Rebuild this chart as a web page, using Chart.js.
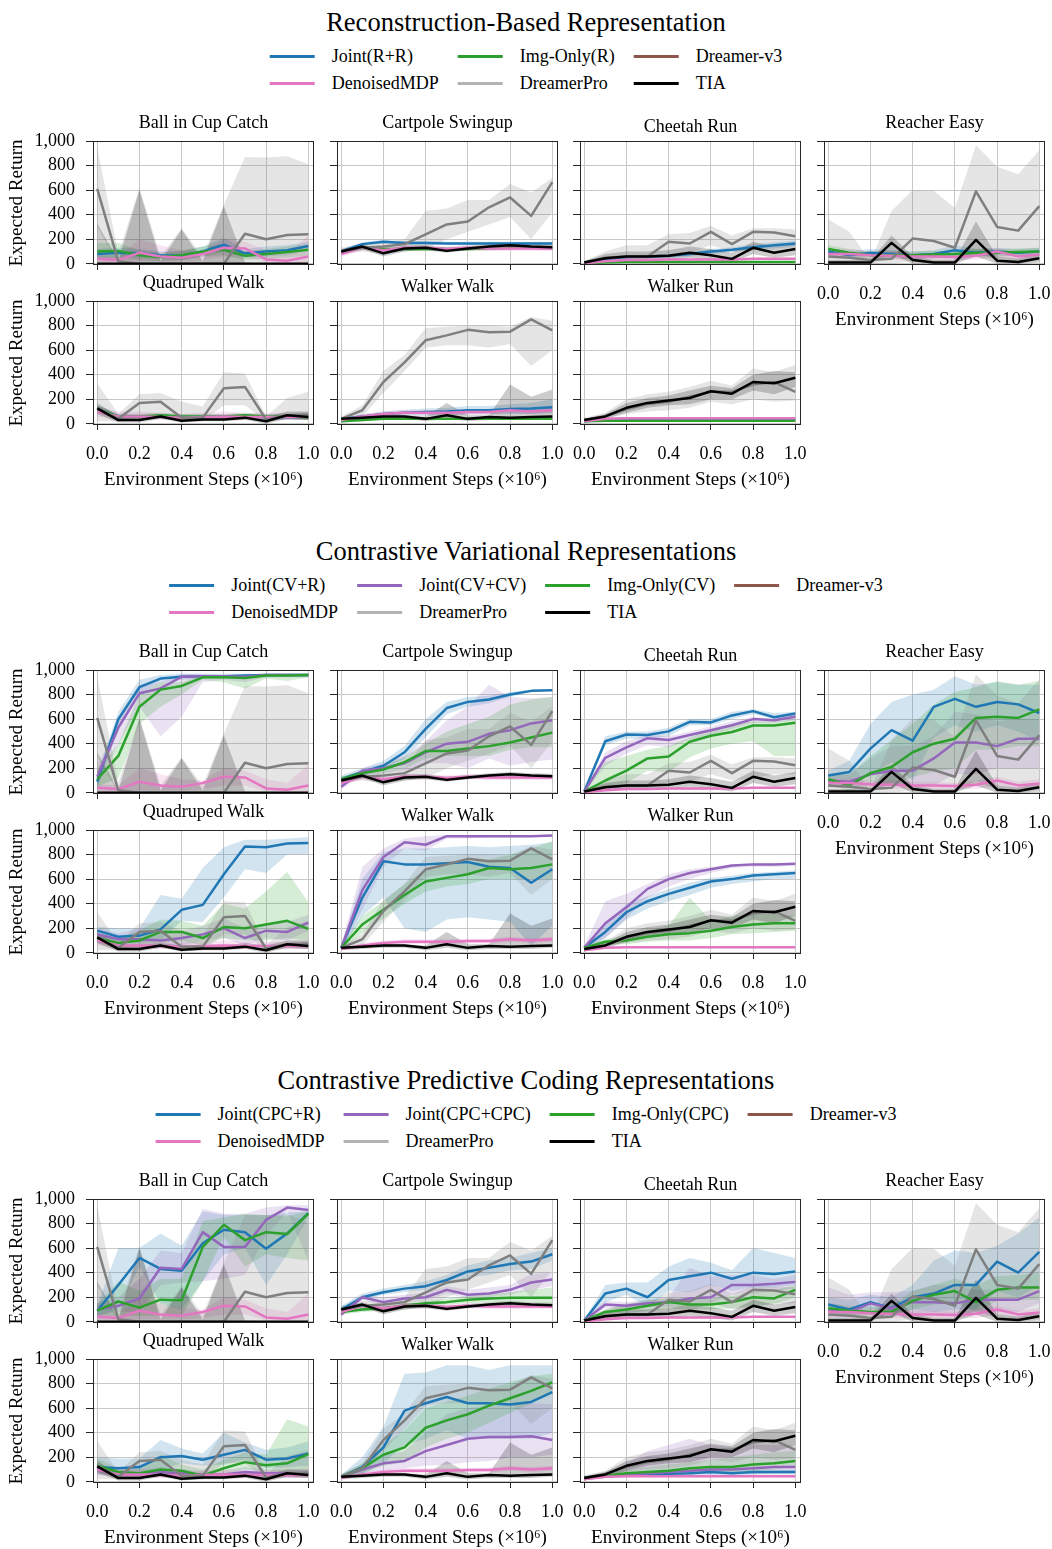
<!DOCTYPE html>
<html lang="en">
<head>
<meta charset="UTF-8">
<title>Representation Comparison</title>
<style>
  body { margin: 0; background: #fff; font-family: "Liberation Serif", "DejaVu Serif", serif; color: #000; }
  #page { position: relative; width: 1052px; height: 1549px; overflow: hidden; }
  canvas { position: absolute; }
  .sec-title { position: absolute; left: 0; width: 1052px; text-align: center; font-size: 26.5px; line-height: 30px; }
  .legend { position: absolute; left: 50%; transform: translateX(-50%); display: grid; column-gap: 19px; row-gap: 5px; font-size: 18px; }
  .legend .item { display: flex; align-items: center; white-space: nowrap; height: 22px; }
  .legend .swatch { width: 45px; height: 3px; margin-right: 17px; }
  .sub-title { position: absolute; width: 221px; text-align: center; font-size: 18px; line-height: 22px; white-space: nowrap; }
</style>
</head>
<body>
<div id="page"></div>
<script src="https://cdn.jsdelivr.net/npm/chart.js"></script>
<script>
// x = environment steps (x1e6), 11 evaluation points
const steps = [0, 0.1, 0.2, 0.3, 0.4, 0.5, 0.6, 0.7, 0.8, 0.9, 1.0];
const xTicks = [0, 0.2, 0.4, 0.6, 0.8, 1.0];
const yTicks = [0, 200, 400, 600, 800, 1000];
const tasks = ['Ball in Cup Catch', 'Cartpole Swingup', 'Cheetah Run', 'Reacher Easy',
               'Quadruped Walk', 'Walker Walk', 'Walker Run'];

// each array below: one row per task, in the order of `tasks`

// DenoisedMDP (baseline)
const dmdpMean = [
  [40, 30, 90, 60, 50, 80, 130, 125, 35, 25, 60],
  [80, 130, 110, 130, 130, 120, 130, 125, 125, 125, 125],
  [5, 20, 30, 30, 35, 35, 35, 35, 40, 40, 40],
  [80, 80, 70, 65, 60, 60, 55, 65, 100, 60, 75],
  [100, 60, 60, 55, 50, 55, 60, 55, 55, 55, 55],
  [30, 60, 80, 90, 90, 90, 95, 95, 110, 100, 110],
  [20, 40, 45, 45, 45, 45, 45, 45, 45, 45, 45]];
const dmdpLo = [
  [10, 0, 20, 20, 20, 30, 60, 60, 10, 0, 10],
  [60, 110, 90, 110, 110, 100, 110, 105, 105, 105, 105],
  [0, 10, 20, 20, 25, 25, 25, 25, 30, 30, 30],
  [40, 40, 40, 30, 30, 30, 30, 30, 60, 30, 40],
  [60, 30, 30, 30, 30, 30, 30, 30, 30, 30, 30],
  [20, 40, 60, 70, 70, 70, 75, 75, 90, 80, 90],
  [10, 30, 35, 35, 35, 35, 35, 35, 35, 35, 35]];
const dmdpHi = [
  [70, 60, 200, 150, 110, 100, 200, 180, 110, 80, 230],
  [100, 150, 130, 150, 150, 140, 150, 145, 145, 145, 145],
  [10, 30, 40, 40, 45, 45, 45, 45, 50, 50, 50],
  [120, 120, 100, 100, 90, 90, 80, 100, 130, 90, 110],
  [140, 100, 100, 90, 80, 90, 100, 90, 90, 90, 90],
  [40, 80, 100, 110, 110, 110, 115, 115, 130, 120, 130],
  [30, 50, 55, 55, 55, 55, 55, 55, 55, 55, 55]];

// DreamerPro (baseline)
const proMean = [
  [610, 20, 0, 0, 0, 0, 0, 245, 200, 235, 240],
  [100, 130, 140, 160, 240, 320, 345, 460, 540, 390, 665],
  [10, 50, 60, 60, 180, 165, 260, 160, 260, 255, 225],
  [60, 50, 30, 40, 205, 185, 130, 590, 300, 270, 470],
  [130, 40, 170, 180, 50, 50, 290, 300, 35, 70, 75],
  [40, 110, 340, 500, 680, 720, 765, 745, 750, 850, 760],
  [30, 60, 120, 160, 180, 220, 260, 260, 320, 340, 260]];
const proLo = [
  [300, 0, 0, 0, 0, 0, 0, 0, 0, 0, 0],
  [80, 100, 80, 100, 120, 200, 260, 320, 380, 200, 420],
  [0, 20, 30, 40, 80, 90, 150, 100, 120, 150, 150],
  [0, 0, 0, 0, 20, 0, 0, 100, 20, 0, 30],
  [20, 20, 60, 60, 20, 20, 150, 150, 20, 30, 30],
  [20, 60, 250, 430, 620, 640, 640, 620, 650, 470, 600],
  [10, 40, 80, 100, 110, 130, 180, 160, 200, 180, 190]];
const proHi = [
  [950, 80, 620, 60, 290, 60, 480, 870, 865, 875, 810],
  [130, 170, 170, 200, 430, 450, 520, 520, 650, 580, 700],
  [20, 100, 150, 150, 240, 250, 310, 230, 290, 290, 280],
  [360, 260, 20, 430, 600, 595, 455, 965, 790, 730, 925],
  [330, 80, 240, 250, 180, 140, 420, 410, 60, 210, 260],
  [60, 150, 430, 560, 780, 790, 800, 800, 790, 870, 840],
  [50, 90, 200, 240, 260, 300, 350, 310, 450, 420, 480]];

// TIA (baseline)
const tiaMean = [
  [0, 0, 0, 0, 0, 0, 0, 0, 0, 0, 0],
  [100, 140, 85, 125, 130, 105, 125, 140, 150, 140, 135],
  [10, 45, 60, 60, 65, 90, 70, 40, 130, 90, 120],
  [10, 10, 10, 170, 30, 10, 10, 195, 25, 15, 45],
  [125, 30, 30, 60, 25, 35, 35, 50, 20, 70, 55],
  [40, 50, 60, 60, 40, 70, 40, 55, 50, 55, 60],
  [30, 60, 130, 170, 190, 210, 265, 245, 340, 330, 375]];
const tiaLo = [
  [0, 0, 0, 0, 0, 0, 0, 0, 0, 0, 0],
  [80, 120, 60, 100, 110, 90, 110, 120, 130, 120, 115],
  [0, 20, 30, 30, 30, 50, 30, 10, 80, 50, 70],
  [0, 0, 0, 80, 0, 0, 0, 60, 0, 0, 10],
  [80, 10, 10, 40, 10, 20, 20, 30, 0, 40, 30],
  [20, 30, 40, 40, 20, 40, 20, 30, 30, 30, 40],
  [20, 40, 90, 130, 150, 160, 200, 200, 270, 240, 300]];
const tiaHi = [
  [330, 20, 600, 20, 280, 20, 470, 10, 0, 0, 0],
  [120, 160, 110, 150, 150, 130, 145, 160, 170, 160, 155],
  [20, 80, 100, 100, 110, 140, 120, 90, 180, 140, 170],
  [30, 30, 30, 230, 60, 30, 30, 345, 60, 40, 80],
  [170, 60, 60, 80, 60, 60, 60, 80, 60, 100, 100],
  [50, 60, 70, 70, 60, 170, 70, 70, 320, 220, 280],
  [40, 80, 170, 210, 230, 270, 310, 290, 400, 430, 420]];

// Joint(R+R)
const rrMean = [
  [80, 90, 85, 70, 65, 100, 155, 85, 100, 110, 145],
  [100, 160, 180, 170, 170, 165, 165, 165, 165, 165, 165],
  [10, 40, 55, 60, 65, 80, 100, 115, 135, 150, 165],
  [100, 70, 90, 80, 70, 80, 110, 90, 100, 90, 100],
  [120, 60, 60, 60, 55, 55, 60, 60, 55, 55, 55],
  [40, 60, 80, 90, 95, 100, 110, 110, 120, 125, 135],
  [20, 35, 40, 40, 40, 40, 40, 40, 40, 40, 40]];
const rrLo = [
  [40, 50, 50, 40, 30, 60, 100, 50, 60, 70, 110],
  [85, 145, 165, 155, 155, 150, 150, 150, 150, 150, 150],
  [0, 30, 40, 45, 50, 60, 80, 95, 110, 125, 140],
  [70, 40, 60, 50, 40, 50, 70, 60, 70, 60, 70],
  [90, 40, 40, 40, 35, 35, 40, 40, 35, 35, 35],
  [30, 45, 60, 65, 65, 70, 75, 75, 80, 80, 85],
  [10, 25, 30, 30, 30, 30, 30, 30, 30, 30, 30]];
const rrHi = [
  [120, 130, 120, 100, 100, 140, 210, 120, 140, 150, 180],
  [115, 175, 195, 185, 185, 180, 180, 180, 180, 180, 180],
  [20, 50, 70, 75, 80, 100, 120, 135, 160, 175, 190],
  [130, 100, 120, 110, 100, 110, 150, 120, 130, 120, 130],
  [150, 80, 80, 80, 75, 75, 80, 80, 75, 75, 75],
  [50, 75, 100, 115, 125, 130, 145, 145, 160, 170, 200],
  [30, 45, 50, 50, 50, 50, 50, 50, 50, 50, 50]];

// Img-Only(R)
const irMean = [
  [100, 105, 70, 55, 70, 100, 115, 65, 80, 95, 115],
  [95, 130, 120, 120, 120, 120, 120, 125, 130, 130, 130],
  [5, 10, 15, 15, 15, 15, 15, 15, 15, 15, 15],
  [120, 90, 70, 70, 70, 75, 80, 90, 90, 95, 100],
  [120, 60, 60, 70, 60, 60, 60, 70, 60, 60, 50],
  [20, 30, 40, 40, 40, 40, 40, 40, 40, 40, 40],
  [20, 25, 25, 25, 25, 25, 25, 25, 25, 25, 25]];
const irLo = [
  [40, 40, 30, 20, 30, 60, 70, 30, 40, 50, 70],
  [80, 115, 105, 105, 105, 105, 105, 110, 115, 115, 115],
  [0, 5, 10, 10, 10, 10, 10, 10, 10, 10, 10],
  [90, 60, 40, 40, 40, 45, 50, 60, 60, 65, 70],
  [90, 40, 40, 50, 40, 40, 40, 50, 40, 40, 30],
  [10, 20, 30, 30, 30, 30, 30, 30, 30, 30, 30],
  [10, 15, 15, 15, 15, 15, 15, 15, 15, 15, 15]];
const irHi = [
  [170, 170, 110, 90, 110, 140, 160, 100, 120, 140, 160],
  [110, 145, 135, 135, 135, 135, 135, 140, 145, 145, 145],
  [10, 15, 20, 20, 20, 20, 20, 20, 20, 20, 20],
  [150, 120, 100, 100, 100, 105, 110, 120, 120, 125, 130],
  [150, 80, 80, 90, 80, 80, 80, 90, 80, 80, 70],
  [30, 40, 50, 50, 50, 50, 50, 50, 50, 50, 50],
  [30, 35, 35, 35, 35, 35, 35, 35, 35, 35, 35]];

// Joint(CV+R)
const cvrMean = [
  [90, 600, 860, 930, 945, 950, 950, 955, 960, 960, 960],
  [110, 170, 220, 330, 520, 690, 740, 760, 800, 830, 835],
  [10, 420, 475, 470, 500, 578, 573, 630, 665, 615, 645],
  [140, 170, 360, 510, 425, 700, 765, 700, 740, 720, 650],
  [180, 130, 140, 190, 350, 390, 640, 865, 860, 890, 895],
  [40, 450, 745, 720, 720, 730, 740, 700, 690, 570, 680],
  [40, 170, 330, 420, 480, 530, 580, 600, 630, 640, 650]];
const cvrLo = [
  [40, 520, 800, 900, 920, 930, 930, 940, 950, 950, 950],
  [90, 140, 190, 280, 450, 640, 700, 730, 780, 820, 830],
  [0, 390, 440, 440, 460, 550, 550, 600, 640, 600, 620],
  [80, 60, 150, 250, 100, 450, 550, 500, 550, 500, 420],
  [140, 80, 80, 100, 260, 250, 450, 680, 650, 800, 800],
  [20, 300, 450, 200, 170, 270, 290, 270, 250, 60, 220],
  [20, 120, 270, 360, 420, 470, 530, 560, 580, 600, 600]];
const cvrHi = [
  [150, 660, 920, 960, 970, 970, 970, 970, 970, 970, 970],
  [140, 200, 260, 380, 600, 740, 780, 790, 820, 840, 840],
  [20, 460, 500, 500, 530, 600, 600, 660, 680, 650, 660],
  [180, 260, 560, 740, 800, 840, 950, 880, 900, 880, 880],
  [210, 200, 200, 470, 440, 690, 860, 920, 920, 930, 940],
  [60, 600, 820, 850, 850, 860, 870, 860, 870, 880, 900],
  [60, 230, 400, 460, 520, 570, 610, 630, 650, 660, 670]];

// Joint(CV+CV)
const cvcvMean = [
  [130, 530, 810, 850, 945, 950, 950, 945, 960, 960, 960],
  [50, 180, 200, 240, 330, 400, 415, 480, 510, 565, 590],
  [10, 285, 370, 445, 430, 470, 510, 550, 600, 590, 620],
  [100, 90, 150, 180, 180, 280, 410, 410, 380, 440, 440],
  [150, 110, 110, 100, 120, 150, 200, 120, 180, 170, 245],
  [40, 510, 780, 900, 880, 950, 950, 950, 950, 950, 955],
  [40, 240, 370, 520, 600, 650, 680, 710, 720, 720, 725]];
const cvcvLo = [
  [60, 400, 700, 460, 620, 900, 920, 900, 940, 940, 940],
  [30, 140, 160, 180, 240, 240, 200, 280, 220, 250, 270],
  [0, 220, 320, 390, 370, 430, 470, 520, 570, 570, 590],
  [50, 40, 60, 60, 50, 60, 150, 150, 200, 200, 200],
  [100, 60, 50, 40, 60, 100, 120, 60, 120, 100, 180],
  [20, 350, 700, 850, 830, 930, 930, 940, 940, 940, 945],
  [20, 120, 280, 450, 540, 600, 650, 690, 700, 700, 710]];
const cvcvHi = [
  [200, 600, 880, 900, 970, 970, 960, 960, 970, 970, 970],
  [80, 200, 240, 300, 420, 590, 700, 880, 780, 770, 780],
  [20, 330, 420, 470, 460, 500, 540, 580, 620, 600, 640],
  [150, 150, 280, 380, 380, 460, 660, 640, 580, 600, 600],
  [200, 160, 200, 180, 180, 220, 280, 200, 240, 250, 310],
  [60, 700, 850, 930, 950, 960, 960, 960, 960, 960, 960],
  [60, 420, 480, 560, 640, 680, 700, 720, 730, 730, 730]];

// Img-Only(CV)
const icvMean = [
  [110, 300, 700, 840, 870, 940, 940, 935, 955, 955, 960],
  [110, 160, 190, 250, 340, 340, 360, 380, 410, 450, 490],
  [10, 100, 180, 280, 295, 415, 465, 495, 548, 548, 570],
  [110, 60, 160, 210, 330, 400, 440, 610, 620, 610, 680],
  [120, 80, 100, 170, 170, 120, 210, 200, 230, 260, 195],
  [40, 230, 350, 470, 580, 610, 640, 690, 680, 690, 720],
  [40, 90, 100, 130, 150, 160, 180, 210, 230, 240, 240]];
const icvLo = [
  [50, 120, 560, 700, 800, 920, 900, 850, 930, 910, 940],
  [90, 140, 160, 200, 280, 300, 300, 300, 350, 370, 370],
  [0, 50, 80, 180, 170, 290, 360, 400, 420, 300, 300],
  [60, 20, 50, 60, 130, 170, 200, 350, 350, 380, 380],
  [80, 40, 40, 80, 100, 60, 120, 100, 100, 120, 100],
  [20, 160, 280, 400, 500, 540, 560, 600, 600, 600, 600],
  [20, 70, 70, 90, 100, 100, 120, 150, 160, 170, 180]];
const icvHi = [
  [180, 400, 800, 900, 900, 960, 960, 960, 970, 970, 970],
  [130, 180, 220, 290, 400, 500, 560, 620, 720, 760, 780],
  [20, 250, 300, 350, 380, 450, 520, 560, 580, 580, 600],
  [150, 150, 300, 430, 560, 720, 820, 860, 910, 880, 910],
  [160, 120, 180, 270, 260, 220, 400, 360, 500, 660, 410],
  [60, 300, 420, 560, 680, 720, 730, 760, 800, 850, 910],
  [60, 110, 140, 180, 220, 450, 260, 300, 320, 320, 300]];

// Joint(CPC+R)
const cpcrMean = [
  [90, 300, 520, 430, 415, 640, 750, 730, 595, 720, 885],
  [100, 200, 240, 270, 290, 340, 410, 440, 470, 490, 550],
  [10, 230, 270, 200, 340, 370, 400, 350, 400, 390, 410],
  [140, 100, 160, 110, 200, 230, 300, 300, 490, 400, 570],
  [120, 110, 120, 200, 210, 180, 220, 260, 180, 190, 230],
  [40, 120, 280, 580, 640, 690, 640, 640, 630, 650, 730],
  [30, 50, 55, 60, 65, 70, 80, 70, 80, 80, 80]];
const cpcrLo = [
  [50, 100, 450, 150, 100, 330, 550, 600, 300, 550, 850],
  [80, 180, 220, 240, 260, 300, 360, 380, 420, 430, 500],
  [0, 160, 220, 120, 250, 240, 300, 250, 280, 280, 300],
  [80, 40, 100, 60, 100, 80, 100, 100, 250, 200, 300],
  [60, 60, 80, 100, 150, 130, 140, 180, 110, 120, 130],
  [20, 60, 150, 300, 350, 420, 350, 350, 350, 350, 400],
  [20, 40, 40, 45, 50, 55, 60, 55, 60, 60, 60]];
const cpcrHi = [
  [130, 600, 600, 720, 620, 900, 870, 870, 870, 890, 900],
  [130, 230, 270, 300, 330, 380, 460, 500, 520, 560, 600],
  [20, 300, 320, 320, 450, 520, 480, 420, 600, 560, 520],
  [200, 180, 220, 200, 300, 500, 580, 560, 620, 720, 850],
  [200, 190, 190, 340, 270, 230, 400, 320, 260, 280, 330],
  [60, 200, 450, 880, 890, 950, 950, 910, 950, 950, 950],
  [40, 60, 70, 75, 80, 85, 100, 85, 100, 100, 100]];

// Joint(CPC+CPC)
const cpccpcMean = [
  [100, 130, 190, 440, 430, 730, 610, 610, 830, 930, 910],
  [60, 200, 160, 190, 200, 260, 220, 230, 260, 320, 345],
  [10, 140, 130, 150, 160, 190, 200, 300, 300, 310, 325],
  [100, 80, 150, 110, 160, 160, 150, 180, 180, 180, 250],
  [100, 60, 60, 80, 70, 60, 60, 80, 70, 70, 70],
  [40, 100, 150, 170, 250, 300, 350, 365, 365, 370, 340],
  [30, 50, 60, 70, 80, 90, 100, 100, 110, 120, 120]];
const cpccpcLo = [
  [50, 80, 80, 300, 320, 330, 350, 380, 700, 900, 500],
  [40, 180, 130, 160, 170, 230, 190, 200, 220, 260, 290],
  [0, 110, 100, 120, 120, 130, 150, 220, 230, 250, 270],
  [30, 30, 60, 40, 60, 60, 50, 80, 80, 80, 150],
  [60, 30, 30, 40, 40, 30, 30, 40, 40, 40, 40],
  [20, 70, 90, 110, 130, 140, 160, 170, 200, 200, 220],
  [10, 30, 40, 40, 50, 60, 60, 60, 60, 70, 70]];
const cpccpcHi = [
  [150, 200, 350, 580, 560, 920, 880, 880, 930, 950, 950],
  [80, 220, 200, 220, 240, 290, 260, 280, 300, 390, 400],
  [20, 170, 160, 180, 200, 440, 370, 380, 380, 350, 380],
  [280, 220, 240, 240, 250, 300, 300, 260, 260, 260, 300],
  [140, 100, 100, 120, 100, 90, 90, 120, 100, 100, 100],
  [60, 130, 220, 250, 400, 550, 600, 620, 640, 640, 630],
  [50, 80, 150, 250, 300, 350, 300, 280, 300, 300, 300]];

// Img-Only(CPC)
const icpcMean = [
  [90, 165, 115, 180, 175, 610, 790, 665, 730, 715, 880],
  [80, 100, 110, 130, 150, 160, 180, 190, 195, 195, 195],
  [10, 80, 100, 130, 160, 140, 140, 160, 200, 190, 260],
  [110, 90, 80, 80, 170, 220, 250, 160, 260, 280, 280],
  [130, 80, 70, 100, 90, 50, 110, 160, 135, 150, 225],
  [40, 110, 220, 280, 440, 500, 550, 620, 680, 740, 810],
  [30, 50, 70, 80, 90, 110, 120, 120, 140, 150, 170]];
const icpcLo = [
  [50, 50, 50, 50, 50, 330, 690, 450, 550, 520, 500],
  [60, 80, 90, 110, 130, 140, 150, 160, 160, 160, 150],
  [0, 60, 70, 90, 110, 100, 100, 110, 130, 140, 200],
  [70, 50, 40, 40, 100, 140, 160, 80, 170, 180, 180],
  [70, 50, 40, 60, 40, 20, 60, 100, 80, 80, 100],
  [20, 70, 130, 160, 280, 350, 400, 480, 560, 640, 740],
  [20, 30, 40, 50, 60, 70, 80, 80, 90, 100, 120]];
const icpcHi = [
  [140, 330, 250, 350, 350, 820, 850, 880, 870, 860, 900],
  [100, 120, 130, 150, 170, 190, 210, 230, 240, 260, 280],
  [20, 100, 140, 180, 190, 190, 190, 210, 240, 260, 300],
  [150, 130, 120, 130, 250, 300, 350, 300, 370, 380, 400],
  [190, 110, 110, 220, 140, 100, 180, 240, 220, 510, 450],
  [60, 150, 300, 420, 600, 650, 700, 760, 810, 860, 880],
  [50, 70, 100, 120, 140, 160, 180, 200, 220, 240, 250]];

// ---- styling ----
const COLORS = {
  blue: '#1f77b4', purple: '#9467bd', green: '#2ca02c', brown: '#8c564b',
  pink: '#e377c2', grey: '#7f7f7f', black: '#000000'
};
const FONT = '"Liberation Serif", "DejaVu Serif", serif';
const GRID = '#c8c8c8';
const AXIS = '#262626';

const baselines = [
  { label: 'DenoisedMDP', color: COLORS.pink, mean: dmdpMean, lo: dmdpLo, hi: dmdpHi },
  { label: 'DreamerPro', color: COLORS.grey, legendColor: '#b3b3b3', mean: proMean, lo: proLo, hi: proHi },
  { label: 'TIA', color: COLORS.black, mean: tiaMean, lo: tiaLo, hi: tiaHi }
];
const dreamerV3 = { label: 'Dreamer-v3', color: COLORS.brown };

const sections = [
  { title: 'Reconstruction-Based Representation', cols: 3,
    methods: [
      { label: 'Joint(R+R)', color: COLORS.blue, mean: rrMean, lo: rrLo, hi: rrHi },
      { label: 'Img-Only(R)', color: COLORS.green, mean: irMean, lo: irLo, hi: irHi }
    ] },
  { title: 'Contrastive Variational Representations', cols: 4,
    methods: [
      { label: 'Joint(CV+R)', color: COLORS.blue, mean: cvrMean, lo: cvrLo, hi: cvrHi },
      { label: 'Joint(CV+CV)', color: COLORS.purple, mean: cvcvMean, lo: cvcvLo, hi: cvcvHi },
      { label: 'Img-Only(CV)', color: COLORS.green, mean: icvMean, lo: icvLo, hi: icvHi }
    ] },
  { title: 'Contrastive Predictive Coding Representations', cols: 4,
    methods: [
      { label: 'Joint(CPC+R)', color: COLORS.blue, mean: cpcrMean, lo: cpcrLo, hi: cpcrHi },
      { label: 'Joint(CPC+CPC)', color: COLORS.purple, mean: cpccpcMean, lo: cpccpcLo, hi: cpccpcHi },
      { label: 'Img-Only(CPC)', color: COLORS.green, mean: icpcMean, lo: icpcLo, hi: icpcHi }
    ] }
];

// ---- page geometry ----
const SEC_H = 529;
const ROW_H = 160;
const PLOT_TOP = 141;
const PLOT_W = 221;
const PLOT_H = 124;
const colLeft = [93, 337, 580, 824];
// top/right padding kept larger than Chart.js' label overflow so the plot box stays put
const PAD_L = 90, PAD_R = 28, PAD_T = 28, AX_H = 67;

function rgba(hex, a) {
  const n = parseInt(hex.slice(1), 16);
  return `rgba(${(n >> 16) & 255},${(n >> 8) & 255},${n & 255},${a})`;
}
const pts = arr => steps.map((x, i) => ({ x: x, y: arr[i] }));

// frame around the plotting area
const framePlugin = {
  id: 'frame',
  afterDatasetsDraw(chart) {
    const { ctx, chartArea: a } = chart;
    ctx.save();
    ctx.strokeStyle = AXIS;
    ctx.lineWidth = 1;
    ctx.strokeRect(Math.round(a.left) + 0.5, Math.round(a.top) + 0.5,
                   Math.round(a.right - a.left) - 1, Math.round(a.bottom - a.top) - 1);
    ctx.restore();
  }
};

const page = document.getElementById('page');

function addDiv(cls, text, style) {
  const d = document.createElement('div');
  d.className = cls;
  d.textContent = text;
  Object.assign(d.style, style);
  page.appendChild(d);
  return d;
}

function makePanel(sec, t, plotLeft, plotTop, showY, showX) {
  const cv = document.createElement('canvas');
  cv.width = PAD_L + PLOT_W + PAD_R;
  cv.height = PAD_T + PLOT_H + AX_H;
  cv.style.left = (plotLeft - PAD_L) + 'px';
  cv.style.top = (plotTop - PAD_T) + 'px';
  page.appendChild(cv);

  const series = [...sec.methods, ...baselines];
  const datasets = [];
  series.forEach((s, k) => {
    datasets.push({ data: pts(s.lo[t]), borderWidth: 0, pointRadius: 0, fill: false, order: 300 - 2 * k });
    datasets.push({ data: pts(s.hi[t]), borderWidth: 0, pointRadius: 0, fill: '-1',
                    backgroundColor: rgba(s.color, 0.2), order: 299 - 2 * k });
  });
  series.forEach((s, k) => {
    datasets.push({ data: pts(s.mean[t]), borderColor: s.color, borderWidth: 2.5,
                    pointRadius: 0, fill: false, order: 100 - k });
  });

  const tickFont = { family: FONT, size: 18 };
  const titleFont = { family: FONT, size: 19 };
  new Chart(cv.getContext('2d'), {
    type: 'line',
    data: { datasets },
    options: {
      responsive: false,
      animation: false,
      devicePixelRatio: 1,
      layout: { padding: { top: PAD_T, right: PAD_R, left: 0, bottom: 0 } },
      elements: { line: { tension: 0, borderJoinStyle: 'round' } },
      plugins: { legend: { display: false }, tooltip: { enabled: false } },
      scales: {
        x: {
          type: 'linear', min: -0.02, max: 1.027,
          afterBuildTicks: s => { s.ticks = xTicks.map(v => ({ value: v })); },
          afterFit: s => { s.height = AX_H; },
          grid: { color: GRID, lineWidth: 1, tickLength: 5, tickColor: AXIS },
          border: { display: false },
          ticks: { display: showX, font: tickFont, color: '#000', padding: 13,
                   maxRotation: 0, autoSkip: false, callback: v => v.toFixed(1) },
          title: { display: showX, text: 'Environment Steps (×10⁶)', font: titleFont, color: '#000',
                   padding: { top: 0, bottom: 1 } }
        },
        y: {
          min: -10, max: 1000,
          afterBuildTicks: s => { s.ticks = yTicks.map(v => ({ value: v })); },
          afterFit: s => { s.width = PAD_L; },
          grid: { color: GRID, lineWidth: 1, tickLength: 7, tickColor: AXIS },
          border: { display: false },
          ticks: { display: showY, font: tickFont, color: '#000', padding: 11, autoSkip: false,
                   callback: v => v.toLocaleString('en-US') },
          title: { display: showY, text: 'Expected Return', font: titleFont, color: '#000',
                   padding: { top: 3, bottom: 0 } }
        }
      }
    },
    plugins: [framePlugin]
  });

  // subplot title, bottom-aligned like the original
  const drop = /[gjpqyQ]/.test(tasks[t]) ? 0 : 4;
  addDiv('sub-title', tasks[t], { left: plotLeft + 'px', top: (plotTop - 30 + drop) + 'px' });
}

sections.forEach((sec, s) => {
  const y0 = s * SEC_H;
  addDiv('sec-title', sec.title, { top: (7 + y0) + 'px' });

  // legend (HTML, row-major like the original)
  const order = [...sec.methods, dreamerV3, ...baselines];
  const lg = document.createElement('div');
  lg.className = 'legend';
  lg.style.top = (45 + y0) + 'px';
  lg.style.gridTemplateColumns = `repeat(${sec.cols}, auto)`;
  order.forEach(it => {
    const item = document.createElement('div');
    item.className = 'item';
    const sw = document.createElement('span');
    sw.className = 'swatch';
    sw.style.background = it.legendColor || it.color;
    item.appendChild(sw);
    item.appendChild(document.createTextNode(it.label));
    lg.appendChild(item);
  });
  page.appendChild(lg);

  tasks.forEach((name, t) => {
    const row = t < 4 ? 0 : 1;
    const col = t < 4 ? t : t - 4;
    const top = PLOT_TOP + y0 + row * ROW_H;
    makePanel(sec, t, colLeft[col], top, col === 0, row === 1 || t === 3);
  });
});
</script>
</body>
</html>
